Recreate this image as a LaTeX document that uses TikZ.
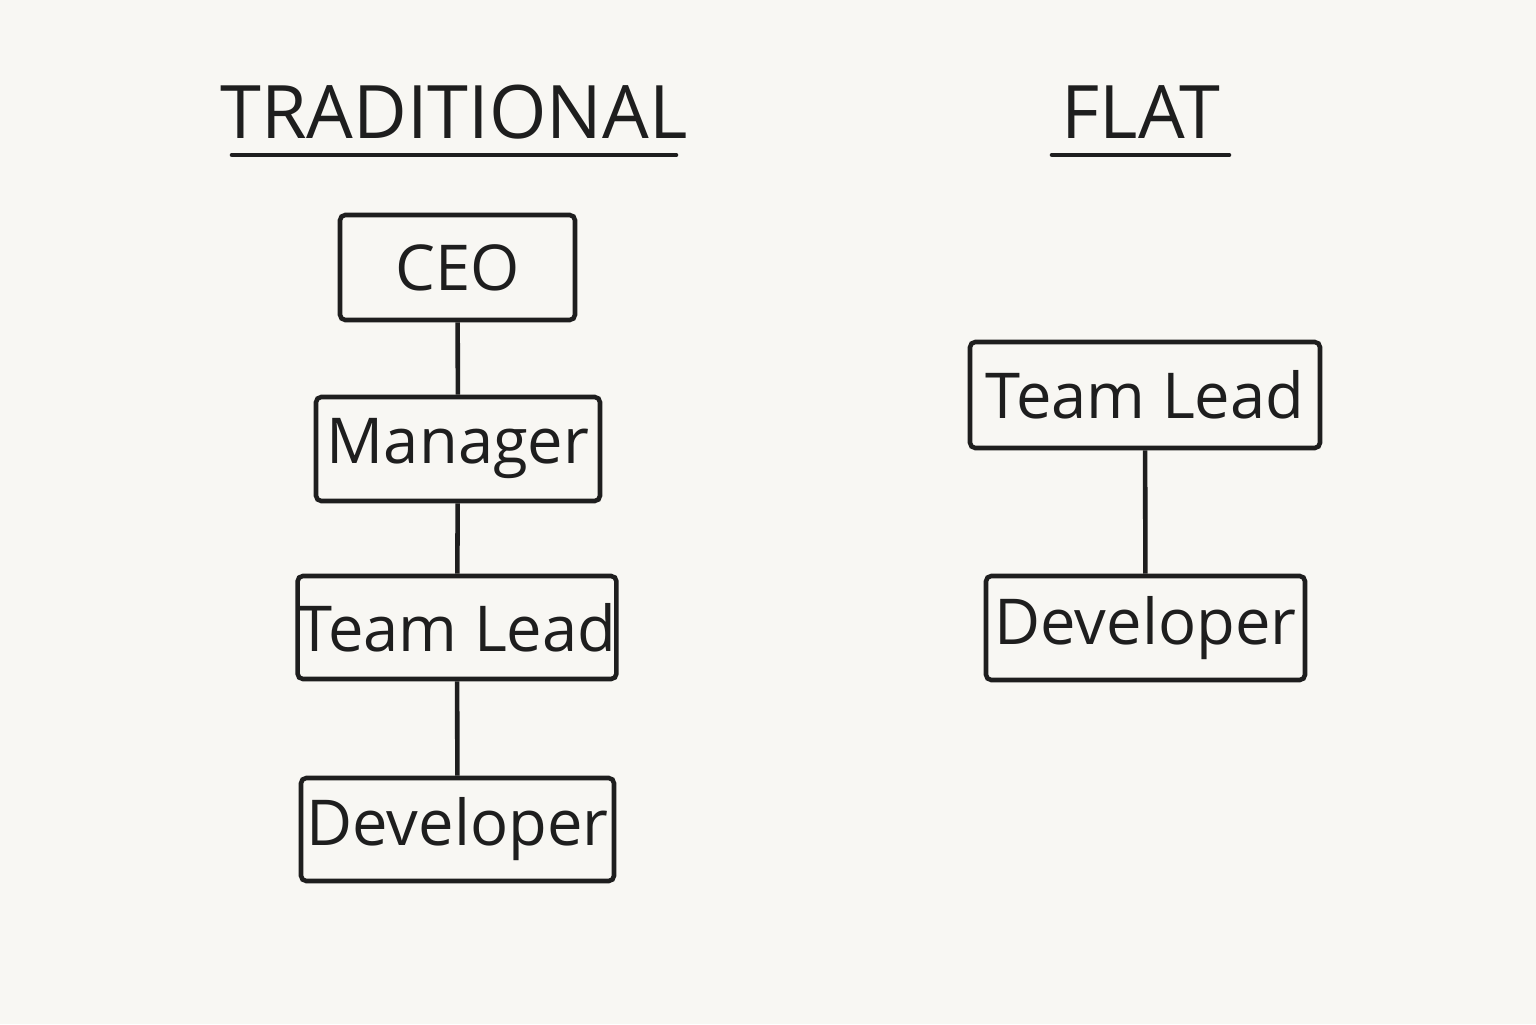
\documentclass[tikz,border=0pt]{standalone}
\usepackage{fontspec}
\setmainfont{Open Sans}
\usetikzlibrary{positioning}
\definecolor{paper}{HTML}{F8F7F3}
\definecolor{ink}{HTML}{1E1E1E}
\tikzset{
  rolebox/.style={draw=ink, line width=1.3pt, rounded corners=1.5pt, inner sep=0pt,
    font=\fontsize{18}{20}\selectfont, text=ink},
  heading/.style={font=\fontsize{21}{24}\selectfont, text=ink},
  link/.style={draw=ink, line width=1.3pt}
}
\begin{document}
\begin{tikzpicture}
\fill[paper] (0,0) rectangle (15.36,10.24);
\useasboundingbox (0,0) rectangle (15.36,10.24);
% traditional
\node[heading] (trad) at (4.54,9.12) {TRADITIONAL};
\draw[link, line cap=round] (2.32,8.69) -- (6.76,8.69);
\node[rolebox, minimum width=2.35cm, minimum height=1.05cm] (ceo) at (4.575,7.565) {CEO};
\node[rolebox, minimum width=2.84cm, minimum height=1.04cm] (mgr) at (4.58,5.75) {Manager};
\node[rolebox, minimum width=3.18cm, minimum height=1.03cm] (tlead) at (4.57,3.965) {Team Lead};
\node[rolebox, minimum width=3.13cm, minimum height=1.03cm] (dev) at (4.575,1.945) {Developer};
\draw[link] (ceo) -- (mgr);
\draw[link] (mgr) -- (tlead);
\draw[link] (tlead) -- (dev);
% flat
\node[heading] (flat) at (11.41,9.12) {FLAT};
\draw[link, line cap=round] (10.52,8.69) -- (12.29,8.69);
\node[rolebox, minimum width=3.50cm, minimum height=1.06cm] (flead) at (11.45,6.29) {Team Lead};
\node[rolebox, minimum width=3.19cm, minimum height=1.04cm] (fdev) at (11.455,3.96) {Developer};
\draw[link] (flead) -- (fdev);
\end{tikzpicture}
\end{document}
